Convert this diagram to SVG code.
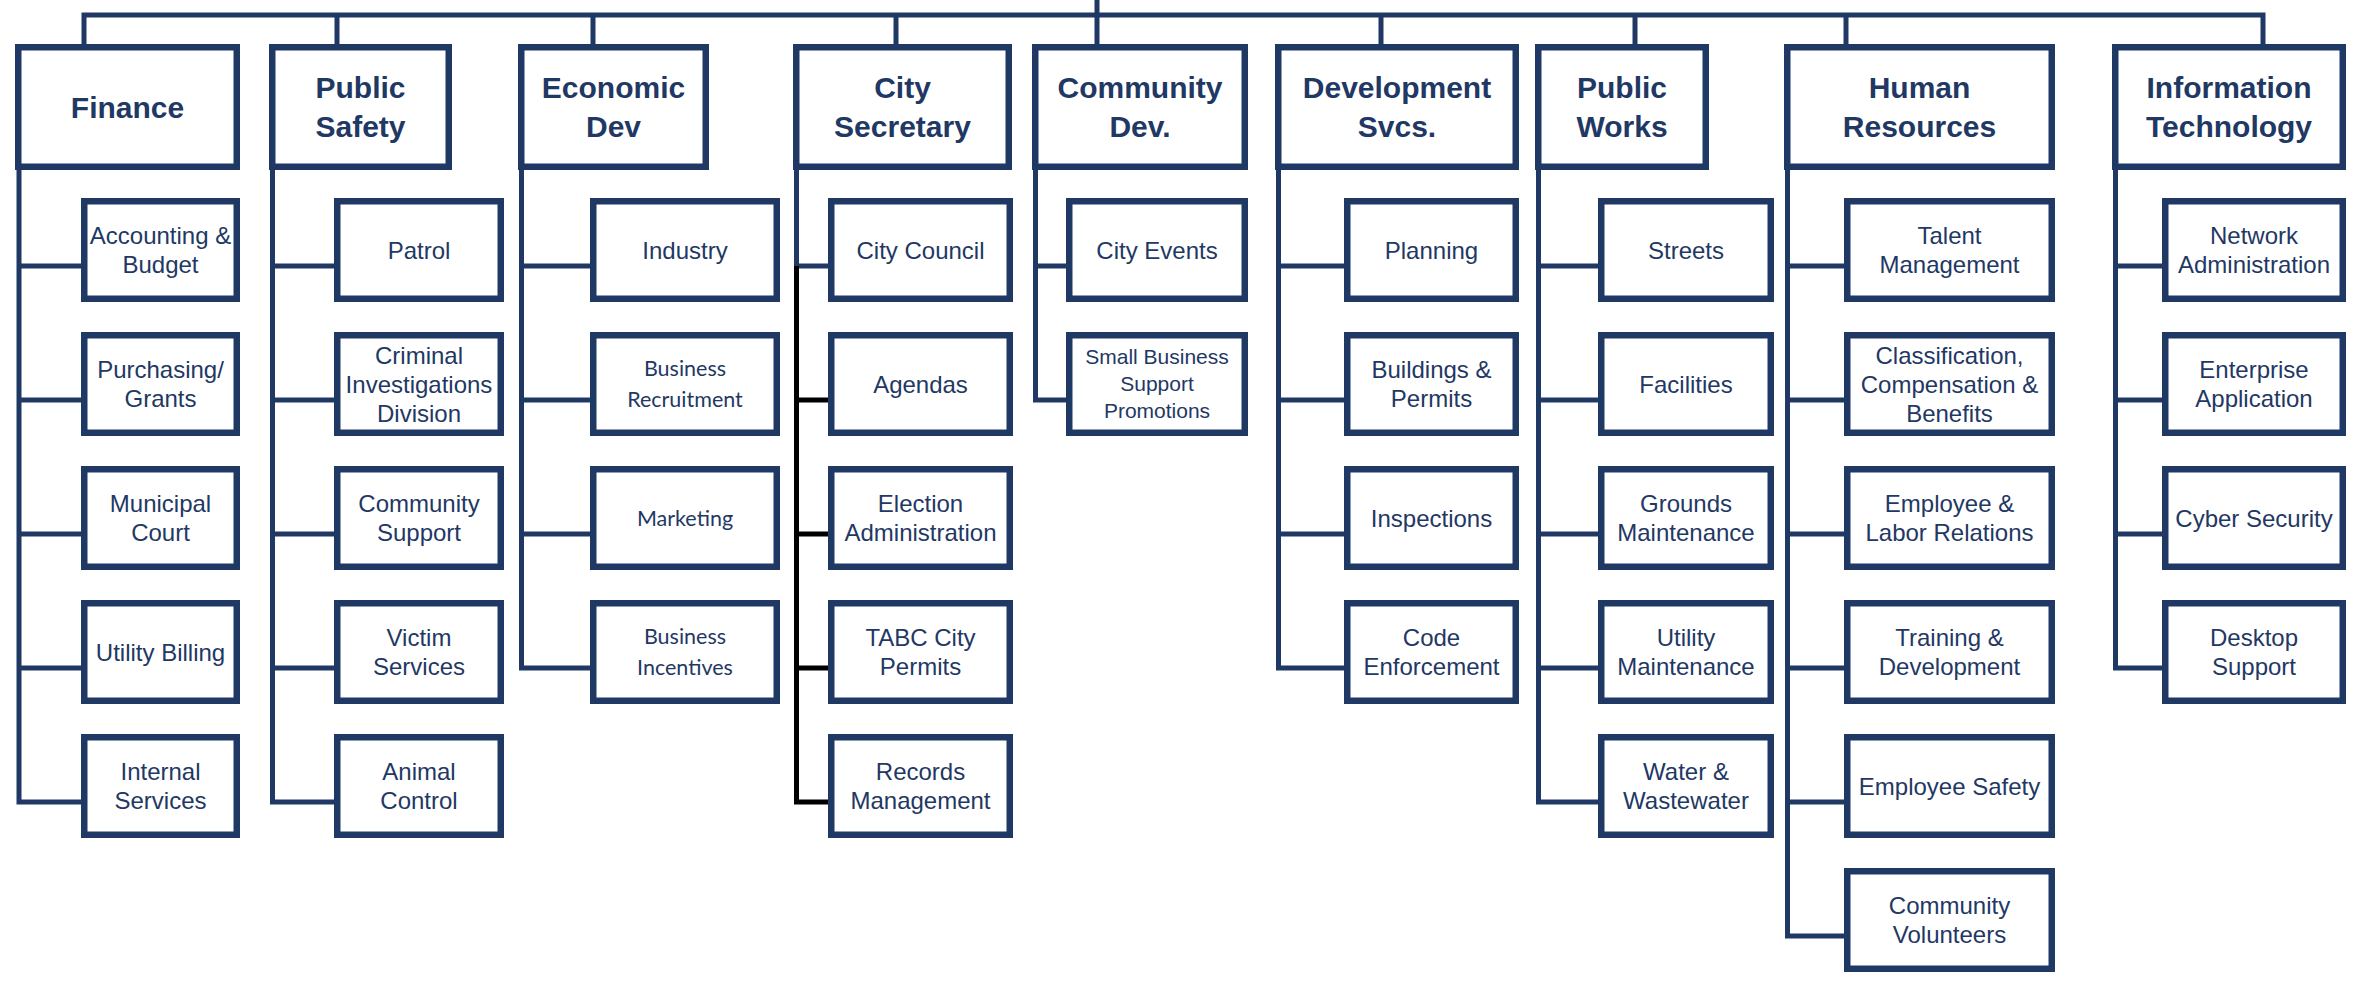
<svg xmlns="http://www.w3.org/2000/svg" width="2353" height="983" viewBox="0 0 2353 983">
<style>
.bx{fill:#ffffff;stroke:#1F3864;stroke-width:6.5}
.ln{fill:none;stroke:#1F3864;stroke-width:5;stroke-linejoin:miter}
.lk{fill:none;stroke:#000000;stroke-width:5;stroke-linejoin:miter}
.h{font-family:"Liberation Sans",Arial,sans-serif;font-weight:bold;font-size:30px;fill:#1F3864;text-anchor:middle}
.t{font-family:"Liberation Sans",Arial,sans-serif;font-size:24px;fill:#1F3864;text-anchor:middle}
.s{font-family:"Liberation Sans",Arial,sans-serif;font-size:21px;fill:#1F3864;text-anchor:middle}
.c{font-family:Lato,"Liberation Sans",sans-serif;font-size:21.5px;fill:#1F3864;text-anchor:middle}
</style>
<rect width="2353" height="983" fill="#ffffff"/>
<g id="connectors">
<path class="ln" d="M84,44 V15 H2263 V44"/>
<path class="ln" d="M337,15 V44 M593,15 V44 M896,15 V44 M1097,0 V44 M1381,15 V44 M1635,15 V44 M1846,15 V44"/>
<path class="ln" d="M19,170 V802 H81 M19,266 H81 M19,400 H81 M19,534 H81 M19,668 H81"/>
<path class="ln" d="M272.5,170 V802 H334 M272.5,266 H334 M272.5,400 H334 M272.5,534 H334 M272.5,668 H334"/>
<path class="ln" d="M521.5,170 V668 H590 M521.5,266 H590 M521.5,400 H590 M521.5,534 H590"/>
<path class="ln" d="M796.5,170 V266 H828"/>
<path class="lk" d="M796.5,266 V802 H828 M796.5,400 H828 M796.5,534 H828 M796.5,668 H828"/>
<path class="ln" d="M1035.5,170 V400 H1066 M1035.5,266 H1066"/>
<path class="ln" d="M1278.5,170 V668 H1344 M1278.5,266 H1344 M1278.5,400 H1344 M1278.5,534 H1344"/>
<path class="ln" d="M1538.5,170 V802 H1598 M1538.5,266 H1598 M1538.5,400 H1598 M1538.5,534 H1598 M1538.5,668 H1598"/>
<path class="ln" d="M1787.5,170 V936 H1844 M1787.5,266 H1844 M1787.5,400 H1844 M1787.5,534 H1844 M1787.5,668 H1844 M1787.5,802 H1844"/>
<path class="ln" d="M2115.5,170 V668 H2162 M2115.5,266 H2162 M2115.5,400 H2162 M2115.5,534 H2162"/>
</g>

<!-- Finance -->
<g id="finance"><rect class="bx" x="18.25" y="47.25" width="218.5" height="119.5"/><text class="h" x="127.5" y="118">Finance</text></g>
<g id="fin-acct"><rect class="bx" x="84.25" y="201.25" width="152.5" height="97.5"/><text class="t"><tspan x="160.5" y="244.1">Accounting &amp;</tspan><tspan x="160.5" y="273.1">Budget</tspan></text></g>
<g id="fin-purch"><rect class="bx" x="84.25" y="335.25" width="152.5" height="97.5"/><text class="t"><tspan x="160.5" y="378.1">Purchasing/</tspan><tspan x="160.5" y="407.1">Grants</tspan></text></g>
<g id="fin-court"><rect class="bx" x="84.25" y="469.25" width="152.5" height="97.5"/><text class="t"><tspan x="160.5" y="512.1">Municipal</tspan><tspan x="160.5" y="541.1">Court</tspan></text></g>
<g id="fin-billing"><rect class="bx" x="84.25" y="603.25" width="152.5" height="97.5"/><text class="t" x="160.5" y="660.6">Utility Billing</text></g>
<g id="fin-internal"><rect class="bx" x="84.25" y="737.25" width="152.5" height="97.5"/><text class="t"><tspan x="160.5" y="780.1">Internal</tspan><tspan x="160.5" y="809.1">Services</tspan></text></g>

<!-- Public Safety -->
<g id="public-safety"><rect class="bx" x="272.25" y="47.25" width="176.5" height="119.5"/><text class="h"><tspan x="360.5" y="98">Public</tspan><tspan x="360.5" y="137">Safety</tspan></text></g>
<g id="ps-patrol"><rect class="bx" x="337.25" y="201.25" width="163.5" height="97.5"/><text class="t" x="419" y="258.6">Patrol</text></g>
<g id="ps-cid"><rect class="bx" x="337.25" y="335.25" width="163.5" height="97.5"/><text class="t"><tspan x="419" y="363.6">Criminal</tspan><tspan x="419" y="392.6">Investigations</tspan><tspan x="419" y="421.6">Division</tspan></text></g>
<g id="ps-community"><rect class="bx" x="337.25" y="469.25" width="163.5" height="97.5"/><text class="t"><tspan x="419" y="512.1">Community</tspan><tspan x="419" y="541.1">Support</tspan></text></g>
<g id="ps-victim"><rect class="bx" x="337.25" y="603.25" width="163.5" height="97.5"/><text class="t"><tspan x="419" y="646.1">Victim</tspan><tspan x="419" y="675.1">Services</tspan></text></g>
<g id="ps-animal"><rect class="bx" x="337.25" y="737.25" width="163.5" height="97.5"/><text class="t"><tspan x="419" y="780.1">Animal</tspan><tspan x="419" y="809.1">Control</tspan></text></g>

<!-- Economic Dev -->
<g id="economic-dev"><rect class="bx" x="521.25" y="47.25" width="184.5" height="119.5"/><text class="h"><tspan x="613.5" y="98">Economic</tspan><tspan x="613.5" y="137">Dev</tspan></text></g>
<g id="ed-industry"><rect class="bx" x="593.25" y="201.25" width="183.5" height="97.5"/><text class="t" x="685" y="258.6">Industry</text></g>
<g id="ed-recruit"><rect class="bx" x="593.25" y="335.25" width="183.5" height="97.5"/><text class="c"><tspan x="685" y="376">Business</tspan><tspan x="685" y="407">Recruitment</tspan></text></g>
<g id="ed-marketing"><rect class="bx" x="593.25" y="469.25" width="183.5" height="97.5"/><text class="c" x="685" y="525.7">Marketing</text></g>
<g id="ed-incentives"><rect class="bx" x="593.25" y="603.25" width="183.5" height="97.5"/><text class="c"><tspan x="685" y="644">Business</tspan><tspan x="685" y="675">Incentives</tspan></text></g>

<!-- City Secretary -->
<g id="city-secretary"><rect class="bx" x="796.25" y="47.25" width="212.5" height="119.5"/><text class="h"><tspan x="902.5" y="98">City</tspan><tspan x="902.5" y="137">Secretary</tspan></text></g>
<g id="cs-council"><rect class="bx" x="831.25" y="201.25" width="178.5" height="97.5"/><text class="t" x="920.5" y="258.6">City Council</text></g>
<g id="cs-agendas"><rect class="bx" x="831.25" y="335.25" width="178.5" height="97.5"/><text class="t" x="920.5" y="392.6">Agendas</text></g>
<g id="cs-election"><rect class="bx" x="831.25" y="469.25" width="178.5" height="97.5"/><text class="t"><tspan x="920.5" y="512.1">Election</tspan><tspan x="920.5" y="541.1">Administration</tspan></text></g>
<g id="cs-tabc"><rect class="bx" x="831.25" y="603.25" width="178.5" height="97.5"/><text class="t"><tspan x="920.5" y="646.1">TABC City</tspan><tspan x="920.5" y="675.1">Permits</tspan></text></g>
<g id="cs-records"><rect class="bx" x="831.25" y="737.25" width="178.5" height="97.5"/><text class="t"><tspan x="920.5" y="780.1">Records</tspan><tspan x="920.5" y="809.1">Management</tspan></text></g>

<!-- Community Dev -->
<g id="community-dev"><rect class="bx" x="1035.25" y="47.25" width="209.5" height="119.5"/><text class="h"><tspan x="1140" y="98">Community</tspan><tspan x="1140" y="137">Dev.</tspan></text></g>
<g id="cd-events"><rect class="bx" x="1069.25" y="201.25" width="175.5" height="97.5"/><text class="t" x="1157" y="258.6">City Events</text></g>
<g id="cd-smallbiz"><rect class="bx" x="1069.25" y="335.25" width="175.5" height="97.5"/><text class="s"><tspan x="1157" y="364">Small Business</tspan><tspan x="1157" y="391">Support</tspan><tspan x="1157" y="418">Promotions</tspan></text></g>

<!-- Development Svcs -->
<g id="development-svcs"><rect class="bx" x="1278.25" y="47.25" width="237.5" height="119.5"/><text class="h"><tspan x="1397" y="98">Development</tspan><tspan x="1397" y="137">Svcs.</tspan></text></g>
<g id="ds-planning"><rect class="bx" x="1347.25" y="201.25" width="168.5" height="97.5"/><text class="t" x="1431.5" y="258.6">Planning</text></g>
<g id="ds-buildings"><rect class="bx" x="1347.25" y="335.25" width="168.5" height="97.5"/><text class="t"><tspan x="1431.5" y="378.1">Buildings &amp;</tspan><tspan x="1431.5" y="407.1">Permits</tspan></text></g>
<g id="ds-inspections"><rect class="bx" x="1347.25" y="469.25" width="168.5" height="97.5"/><text class="t" x="1431.5" y="526.6">Inspections</text></g>
<g id="ds-code"><rect class="bx" x="1347.25" y="603.25" width="168.5" height="97.5"/><text class="t"><tspan x="1431.5" y="646.1">Code</tspan><tspan x="1431.5" y="675.1">Enforcement</tspan></text></g>

<!-- Public Works -->
<g id="public-works"><rect class="bx" x="1538.25" y="47.25" width="167.5" height="119.5"/><text class="h"><tspan x="1622" y="98">Public</tspan><tspan x="1622" y="137">Works</tspan></text></g>
<g id="pw-streets"><rect class="bx" x="1601.25" y="201.25" width="169.5" height="97.5"/><text class="t" x="1686" y="258.6">Streets</text></g>
<g id="pw-facilities"><rect class="bx" x="1601.25" y="335.25" width="169.5" height="97.5"/><text class="t" x="1686" y="392.6">Facilities</text></g>
<g id="pw-grounds"><rect class="bx" x="1601.25" y="469.25" width="169.5" height="97.5"/><text class="t"><tspan x="1686" y="512.1">Grounds</tspan><tspan x="1686" y="541.1">Maintenance</tspan></text></g>
<g id="pw-utility"><rect class="bx" x="1601.25" y="603.25" width="169.5" height="97.5"/><text class="t"><tspan x="1686" y="646.1">Utility</tspan><tspan x="1686" y="675.1">Maintenance</tspan></text></g>
<g id="pw-water"><rect class="bx" x="1601.25" y="737.25" width="169.5" height="97.5"/><text class="t"><tspan x="1686" y="780.1">Water &amp;</tspan><tspan x="1686" y="809.1">Wastewater</tspan></text></g>

<!-- Human Resources -->
<g id="human-resources"><rect class="bx" x="1787.25" y="47.25" width="264.5" height="119.5"/><text class="h"><tspan x="1919.5" y="98">Human</tspan><tspan x="1919.5" y="137">Resources</tspan></text></g>
<g id="hr-talent"><rect class="bx" x="1847.25" y="201.25" width="204.5" height="97.5"/><text class="t"><tspan x="1949.5" y="244.1">Talent</tspan><tspan x="1949.5" y="273.1">Management</tspan></text></g>
<g id="hr-class"><rect class="bx" x="1847.25" y="335.25" width="204.5" height="97.5"/><text class="t"><tspan x="1949.5" y="363.6">Classification,</tspan><tspan x="1949.5" y="392.6">Compensation &amp;</tspan><tspan x="1949.5" y="421.6">Benefits</tspan></text></g>
<g id="hr-labor"><rect class="bx" x="1847.25" y="469.25" width="204.5" height="97.5"/><text class="t"><tspan x="1949.5" y="512.1">Employee &amp;</tspan><tspan x="1949.5" y="541.1">Labor Relations</tspan></text></g>
<g id="hr-training"><rect class="bx" x="1847.25" y="603.25" width="204.5" height="97.5"/><text class="t"><tspan x="1949.5" y="646.1">Training &amp;</tspan><tspan x="1949.5" y="675.1">Development</tspan></text></g>
<g id="hr-safety"><rect class="bx" x="1847.25" y="737.25" width="204.5" height="97.5"/><text class="t" x="1949.5" y="794.6">Employee Safety</text></g>
<g id="hr-volunteers"><rect class="bx" x="1847.25" y="871.25" width="204.5" height="97.5"/><text class="t"><tspan x="1949.5" y="914.1">Community</tspan><tspan x="1949.5" y="943.1">Volunteers</tspan></text></g>

<!-- Information Technology -->
<g id="information-technology"><rect class="bx" x="2115.25" y="47.25" width="227.5" height="119.5"/><text class="h"><tspan x="2229" y="98">Information</tspan><tspan x="2229" y="137">Technology</tspan></text></g>
<g id="it-network"><rect class="bx" x="2165.25" y="201.25" width="177.5" height="97.5"/><text class="t"><tspan x="2254" y="244.1">Network</tspan><tspan x="2254" y="273.1">Administration</tspan></text></g>
<g id="it-enterprise"><rect class="bx" x="2165.25" y="335.25" width="177.5" height="97.5"/><text class="t"><tspan x="2254" y="378.1">Enterprise</tspan><tspan x="2254" y="407.1">Application</tspan></text></g>
<g id="it-cyber"><rect class="bx" x="2165.25" y="469.25" width="177.5" height="97.5"/><text class="t" x="2254" y="526.6">Cyber Security</text></g>
<g id="it-desktop"><rect class="bx" x="2165.25" y="603.25" width="177.5" height="97.5"/><text class="t"><tspan x="2254" y="646.1">Desktop</tspan><tspan x="2254" y="675.1">Support</tspan></text></g>
</svg>
